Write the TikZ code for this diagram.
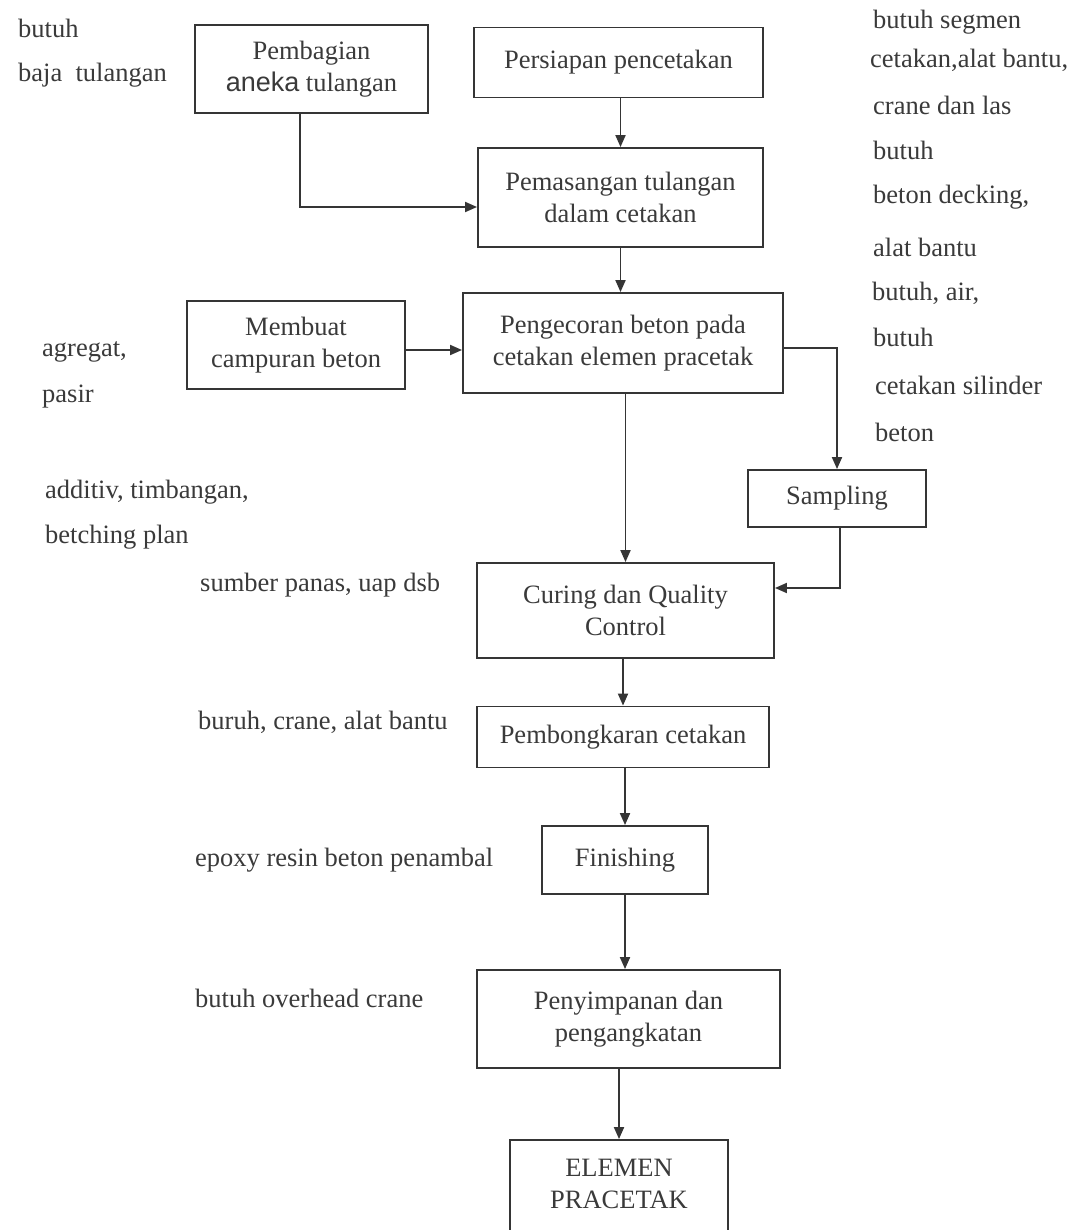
\documentclass[tikz,border=0pt]{standalone}
\usepackage{fontspec}
\setmainfont{Liberation Serif}
\newfontfamily\anekafont{Liberation Sans}
\usetikzlibrary{arrows.meta,calc}
\definecolor{linec}{HTML}{353535}
\definecolor{textc}{HTML}{3A3A3A}
\begin{document}
\begin{tikzpicture}[x=1pt,y=-1pt,
  every node/.style={font=\fontsize{26.5}{32}\selectfont, text=textc, inner sep=0pt},
  box/.style={draw=linec, line width=1.9pt, align=center},
  lbl/.style={anchor=west},
  arr/.style={draw=linec, line width=1.9pt, -{Triangle[length=12pt,width=10pt]}}]
\fill[white] (0,0) rectangle (1070,1230);
\useasboundingbox (0,0) rectangle (1070,1230);
\clip (0,0) rectangle (1070,1230);

% boxes
\node[box, minimum width=233pt, minimum height=88pt] (pemb) at (311.5,69) {Pembagian\\{\anekafont\fontsize{27}{32}\selectfont aneka} tulangan};
\node[box, minimum width=289pt, minimum height=70pt] (pers) at (618.5,62.5) {Persiapan pencetakan};
\node[box, minimum width=285pt, minimum height=99pt] (pemas) at (620.5,197.5) {Pemasangan tulangan\\dalam cetakan};
\node[box, minimum width=320pt, minimum height=100pt] (penge) at (623,343) {Pengecoran beton pada\\cetakan elemen pracetak};
\node[box, minimum width=218pt, minimum height=88pt] (membuat) at (296,345) {Membuat\\campuran beton};
\node[box, minimum width=178pt, minimum height=57pt] (sampling) at (837,498.5) {Sampling};
\node[box, minimum width=297pt, minimum height=95pt] (curing) at (625.5,610.5) {Curing dan Quality\\Control};
\node[box, minimum width=292pt, minimum height=61pt] (bongkar) at (623,737) {Pembongkaran cetakan};
\node[box, minimum width=166pt, minimum height=68pt] (finish) at (625,860) {Finishing};
\node[box, minimum width=303pt, minimum height=98pt] (simpan) at (628.5,1019) {Penyimpanan dan\\pengangkatan};
\node[box, minimum width=218pt, minimum height=120pt] (elemen) at (619,1200) {};
\node[align=center] (elementext) at (619,1184) {ELEMEN\\PRACETAK};

% connectors
\draw[arr] (pemas.north |- pers.south) -- (pemas.north);
\draw[arr] ([xshift=-11.5pt]pemb.south) |- ([yshift=-9.5pt]pemas.west);
\draw[arr] (pemas.south) -- (pemas.south |- penge.north);
\draw[arr] ([yshift=-5pt]membuat.east) -- ([yshift=-5pt]membuat.east -| penge.west);
\draw[arr] ([yshift=-5pt]penge.east) -| (sampling.north);
\draw[arr] (curing.north |- penge.south) -- (curing.north);
\draw[arr] ([xshift=3pt]sampling.south) |- ([yshift=22.5pt]curing.east);
\draw[arr] (bongkar.north |- curing.south) -- (bongkar.north);
\draw[arr] (finish.north |- bongkar.south) -- (finish.north);
\draw[arr] (finish.south) -- (finish.south |- simpan.north);
\draw[arr] (elemen.north |- simpan.south) -- (elemen.north);

% left labels
\node[lbl] (t1) at (18,28) {butuh};
\node[lbl] (t2) at (18,75) {baja\ \ tulangan};
\node[lbl] (t3) at (42,352) {agregat,};
\node[lbl] (t4) at (42,397) {pasir};
\node[lbl] (t5) at (45,492) {additiv, timbangan,};
\node[lbl] (t6) at (45,537) {betching plan};
\node[lbl] (t7) at (200,585) {sumber panas, uap dsb};
\node[lbl] (t8) at (198,722) {buruh, crane, alat bantu};
\node[lbl] (t9) at (195,860) {epoxy resin beton penambal};
\node[lbl] (t10) at (195,998) {butuh overhead crane};

% right labels
\node[lbl] (r1) at (873,22) {butuh segmen};
\node[lbl] (r2) at (870,60) {cetakan,alat bantu,};
\node[lbl] (r3) at (873,105) {crane dan las};
\node[lbl] (r4) at (873,150) {butuh};
\node[lbl] (r5) at (873,197) {beton decking,};
\node[lbl] (r6) at (873,247) {alat bantu};
\node[lbl] (r7) at (872,293) {butuh, air,};
\node[lbl] (r8) at (873,337) {butuh};
\node[lbl] (r9) at (875,385) {cetakan silinder};
\node[lbl] (r10) at (875,432) {beton};
\end{tikzpicture}
\end{document}
